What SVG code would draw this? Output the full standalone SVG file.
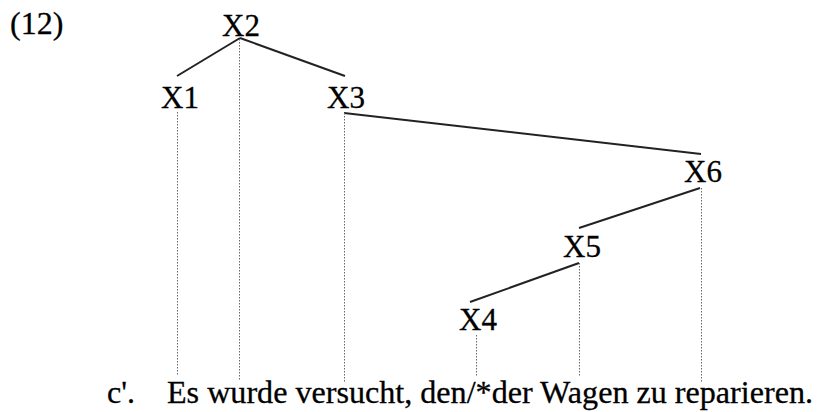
<svg xmlns="http://www.w3.org/2000/svg" width="817" height="412" viewBox="0 0 817 412">
<style>
text{font-family:"Liberation Serif","Times New Roman",serif;font-size:31px;fill:#000;stroke:#000;stroke-width:0.3}
.n{text-anchor:middle}
.e{stroke:#222;stroke-width:2;fill:none}
.d{stroke:#666;stroke-width:1;stroke-dasharray:1.5 1.5;fill:none}
</style>
<rect width="817" height="412" fill="#fff"/>
<text x="10" y="34" style="font-size:32px">(12)</text>
<g id="connectors">
<line class="e" x1="240" y1="38" x2="177" y2="76"/>
<line class="e" x1="240" y1="38" x2="345" y2="76"/>
<line class="e" x1="344" y1="113" x2="701" y2="154"/>
<line class="e" x1="700" y1="188" x2="579" y2="228"/>
<line class="e" x1="579" y1="263" x2="470" y2="302"/>
<line class="d" x1="177.5" y1="112" x2="177.5" y2="375"/>
<line class="d" x1="239.5" y1="39" x2="239.5" y2="381"/>
<line class="d" x1="344.5" y1="113" x2="344.5" y2="383"/>
<line class="d" x1="476.5" y1="335" x2="476.5" y2="376"/>
<line class="d" x1="579.5" y1="263" x2="579.5" y2="376"/>
<line class="d" x1="701.5" y1="188" x2="701.5" y2="383"/>
</g>
<g id="X2"><text class="n" x="241" y="36">X2</text></g>
<g id="X1"><text class="n" x="180" y="108">X1</text></g>
<g id="X3"><text class="n" x="346" y="108">X3</text></g>
<g id="X6"><text class="n" x="703" y="182">X6</text></g>
<g id="X5"><text class="n" x="582" y="257">X5</text></g>
<g id="X4"><text class="n" x="478" y="330">X4</text></g>
<text x="107" y="403" style="font-size:32px">c'.</text>
<text x="167" y="403" style="font-size:32px" textLength="646" lengthAdjust="spacingAndGlyphs">Es wurde versucht, den/*der Wagen zu reparieren.</text>
</svg>
